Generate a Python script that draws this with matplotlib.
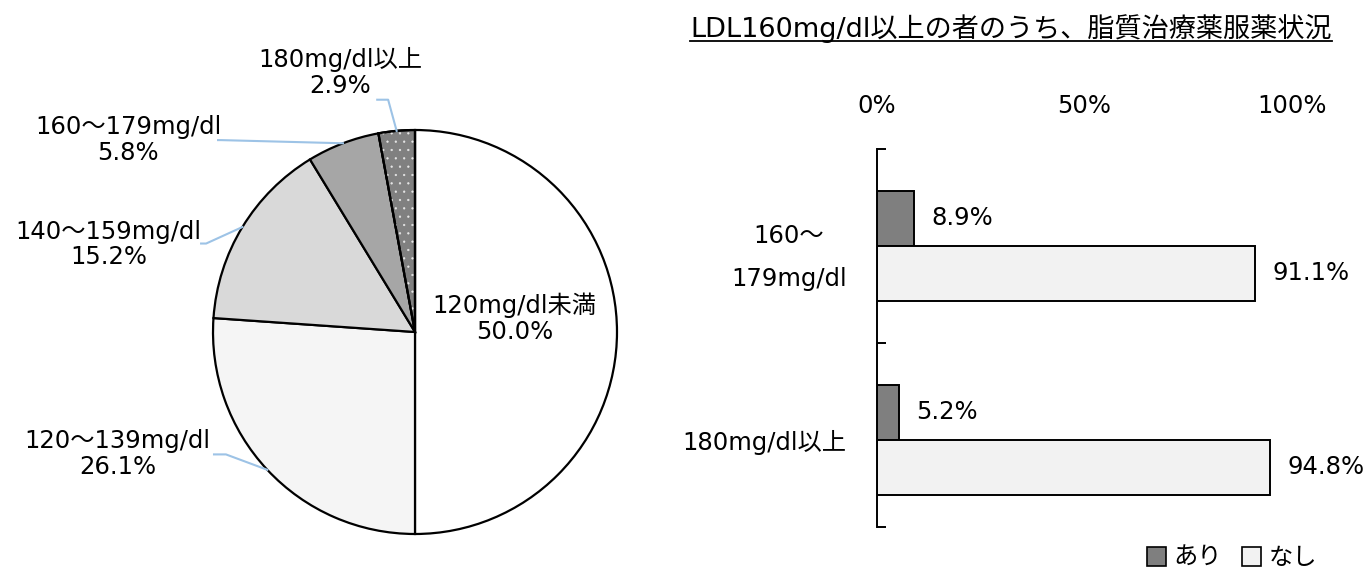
import matplotlib
matplotlib.use("Agg")
import matplotlib.pyplot as plt
import matplotlib.patches as mpatches
from matplotlib.lines import Line2D
import numpy as np

plt.rcParams["font.family"] = ["DejaVu Sans", "Noto Sans CJK JP"]
plt.rcParams["hatch.linewidth"] = 0.4

# ---------------------------------------------------------------- data
pie_labels = ["120mg/dl未満", "120～139mg/dl", "140～159mg/dl",
              "160～179mg/dl", "180mg/dl以上"]
pie_values = [50.0, 26.1, 15.2, 5.8, 2.9]
pie_colors = ["#FFFFFF", "#F5F5F5", "#D9D9D9", "#A6A6A6", "#808080"]

bar_title = "LDL160mg/dl以上の者のうち、脂質治療薬服薬状況"
bar_categories = ["160～\n179mg/dl", "180mg/dl以上"]
bar_series = ["あり", "なし"]
bar_ari = [8.9, 5.2]
bar_nashi = [91.1, 94.8]
bar_colors = ["#7F7F7F", "#F2F2F2"]
x_ticks = [0, 50, 100]

# label layout for the pie (data units, radius = 1): text centre, leader elbow, leader end
label_pos = [(0.493, 0.069), (-1.473, -0.606), (-1.517, 0.433), (-1.419, 0.951), (-0.369, 1.286)]
leader_pts = [None, [(-0.936, -0.606), (-0.995, -0.606)],
              [(-1.034, 0.438), (-1.059, 0.438)],
              [(-0.96, 0.95), (-0.975, 0.95)],
              [(-0.133, 1.15), (-0.187, 1.15)]]
leader_color = "#9DC3E6"
FS = 17.5
LW = 1.6

fig = plt.figure(figsize=(13.72, 5.73), dpi=100)

# ---------------------------------------------------------------- pie
ax_pie = fig.add_axes([212 / 1372, 38 / 573, 406 / 1372, 406 / 573])
wedges, _ = ax_pie.pie(pie_values, colors=pie_colors, startangle=90, counterclock=False,
                       wedgeprops=dict(edgecolor="black", linewidth=LW))
# dotted pattern on the smallest slice: white dots, black outline on top
w = wedges[4]
dots = mpatches.Wedge(w.center, w.r, w.theta1, w.theta2, facecolor="none",
                      edgecolor="#E8E8E8", linewidth=0, hatch="..")
ax_pie.add_patch(dots)
ax_pie.add_patch(mpatches.Wedge(w.center, w.r, w.theta1, w.theta2, facecolor="none",
                                edgecolor="black", linewidth=LW))
ax_pie.set_xlim(-1.005, 1.005)
ax_pie.set_ylim(-1.005, 1.005)
ax_pie.set_aspect("equal")

for i, wd in enumerate(wedges):
    tx, ty = label_pos[i]
    ax_pie.text(tx, ty, f"{pie_labels[i]}\n{pie_values[i]:.1f}%", ha="center", va="center",
                fontsize=FS, linespacing=1.1, multialignment="center", zorder=5)
    if leader_pts[i] is not None:
        mid = np.deg2rad((wd.theta1 + wd.theta2) / 2)
        xs = [np.cos(mid)] + [p[0] for p in leader_pts[i]]
        ys = [np.sin(mid)] + [p[1] for p in leader_pts[i]]
        ax_pie.plot(xs, ys, color=leader_color, linewidth=1.5, clip_on=False, zorder=1)

# ---------------------------------------------------------------- bars
ax = fig.add_axes([877 / 1372, 1 - 527 / 573, 415 / 1372, 378 / 573])
y = np.arange(len(bar_categories))
bh = 0.284
ax.barh(y - bh / 2, bar_ari, height=bh, color=bar_colors[0], edgecolor="black",
        linewidth=1.4, label=bar_series[0])
ax.barh(y + bh / 2, bar_nashi, height=bh, color=bar_colors[1], edgecolor="black",
        linewidth=1.4, label=bar_series[1])
for yi, v in zip(y - bh / 2, bar_ari):
    ax.annotate(f"{v:.1f}%", (v, yi), xytext=(12.5, 0), textcoords="offset points",
                va="center", ha="left", fontsize=FS)
for yi, v in zip(y + bh / 2, bar_nashi):
    ax.annotate(f"{v:.1f}%", (v, yi), xytext=(12.5, 0), textcoords="offset points",
                va="center", ha="left", fontsize=FS)

ax.set_xlim(0, 100)
ax.set_ylim(1.45, -0.5)
ax.xaxis.tick_top()
ax.set_xticks(x_ticks)
ax.set_xticklabels([f"{t}%" for t in x_ticks], fontsize=FS)
ax.tick_params(axis="x", length=0, pad=22)
ax.set_yticks([-0.5, 0.5, 1.45])
ax.set_yticklabels([])
ax.set_yticks(y, minor=True)
ax.set_yticklabels(bar_categories, minor=True, fontsize=FS, linespacing=2.0,
                   multialignment="center")
ax.tick_params(axis="y", which="major", direction="in", length=6.5, width=1.4)
ax.tick_params(axis="y", which="minor", length=0, pad=22)
for s in ["top", "right", "bottom"]:
    ax.spines[s].set_visible(False)
ax.spines["left"].set_linewidth(1.4)

# title with underline
t = fig.text(1011 / 1372, 1 - 37 / 573, bar_title, ha="center", va="baseline", fontsize=19.5)
fig.canvas.draw()
bb = t.get_window_extent()
uy = 1 - 41 / 573
fig.add_artist(Line2D([bb.x0 / 1372, bb.x1 / 1372], [uy, uy], color="black", linewidth=1.3))

handles = [mpatches.Patch(facecolor=c, edgecolor="black", linewidth=1.2, label=l)
           for c, l in zip(bar_colors, bar_series)]
fig.legend(handles=handles, loc="center left", bbox_to_anchor=(1147 / 1372, 1 - 558 / 573),
           ncol=2, frameon=False, fontsize=FS, handlelength=0.8, handleheight=0.8,
           handletextpad=0.3, columnspacing=0.8, borderpad=0, borderaxespad=0)

fig.savefig("out.png", dpi=100)
